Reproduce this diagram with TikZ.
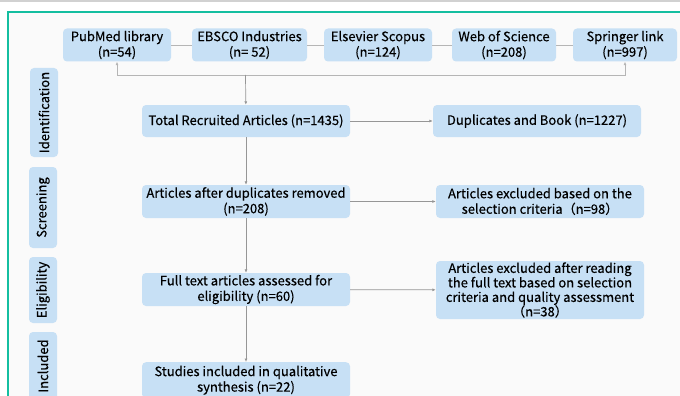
\documentclass[tikz,border=0pt]{standalone}
\usepackage{fontspec}
\setmainfont{Noto Sans CJK SC}[FakeBold=0.35]
\usepackage{tikz}
\usetikzlibrary{arrows.meta}
\definecolor{boxblue}{RGB}{199,224,245}
\definecolor{frameteal}{RGB}{20,190,160}
\definecolor{linegray}{RGB}{150,150,150}

\begin{document}
\begin{tikzpicture}[x=1pt,y=-1pt,
  box/.style={draw=none,fill=boxblue,rounded corners=4pt,align=center,font=\fontsize{13}{15.5}\selectfont,inner sep=1pt},
  side/.style={draw=none,fill=boxblue,rounded corners=4pt,rotate=90,font=\fontsize{13}{15.5}\selectfont,minimum height=28pt,inner sep=1pt},
  link/.style={draw=linegray!70,line width=0.9pt},
  flow/.style={draw=linegray,line width=0.7pt,-{Latex[length=3.5pt,width=3pt]}}]
\useasboundingbox (0,0) rectangle (680,396);
\clip (0,0) rectangle (680,396);
\fill[white] (0,0) rectangle (680,396);
\draw[black!18,line width=1.5pt] (0,0.8) -- (680,0.8);
\fill[black!2] (8,12) rectangle (684,400);
\draw[frameteal,line width=1.2pt] (8,400) -- (8,12) -- (684,12);
% sources
\node[box,minimum width=108pt,minimum height=33pt] (pubmed) at (117,45) {PubMed library\\(n=54)};
\node[box,minimum width=115pt,minimum height=33pt] (ebsco) at (249.5,45) {EBSCO Industries\\(n= 52)};
\node[box,minimum width=108pt,minimum height=33pt] (scopus) at (378,45) {Elsevier Scopus\\(n=124)};
\node[box,minimum width=104pt,minimum height=33pt] (wos) at (504,45) {Web of Science\\(n=208)};
\node[box,minimum width=104pt,minimum height=33pt] (springer) at (625,45) {Springer link\\(n=997)};
\draw[link] (pubmed) -- (ebsco);
\draw[link] (ebsco) -- (scopus);
\draw[link] (scopus) -- (wos);
\draw[link] (wos) -- (springer);
\coordinate (merge) at (245.5,75);
\draw[link,-{Latex[length=3.5pt,width=3pt]}] (merge) -| (pubmed.south);
\draw[link,-{Latex[length=3.5pt,width=3pt]}] (merge) -| (springer.south);
% stages
\node[side,minimum width=89pt] (ident) at (44,112.5) {Identification};
\node[side,minimum width=81pt] (screen) at (43,207.5) {Screening};
\node[side,minimum width=66pt] (elig) at (43,290) {Eligibility};
\node[side,minimum width=68pt] (incl) at (43,366) {Included};
% main flow
\node[box,minimum width=208pt,minimum height=32pt] (total) at (246,121) {Total Recruited Articles (n=1435)};
\node[box,minimum width=208pt,minimum height=32pt] (dupl) at (537,121) {Duplicates and Book (n=1227)};
\node[box,minimum width=208pt,minimum height=33pt] (afterdup) at (246,201.5) {Articles after duplicates removed\\(n=208)};
\node[box,minimum width=208pt,minimum height=33pt] (exsel) at (540,201.5) {Articles excluded based on the\\selection criteria（n=98）};
\node[box,minimum width=208pt,minimum height=58pt,font=\fontsize{13}{14.5}\selectfont] (exfull) at (540,290) {Articles excluded after reading\\the full text based on selection\\criteria and quality assessment\\（n=38）};
\node[box,minimum width=208pt,minimum height=33pt] (fulltext) at (246,289.5) {Full text articles assessed for\\eligibility (n=60)};
\node[box,minimum width=208pt,minimum height=36pt,anchor=north] (studies) at (246,362) {Studies included in qualitative\\synthesis (n=22)};
\draw[flow] (merge) -- (total);
\draw[flow] (total) -- (dupl);
\draw[flow] (total) -- (afterdup);
\draw[flow] (afterdup) -- (exsel);
\draw[flow] (afterdup) -- (fulltext);
\draw[flow] (fulltext) -- (exfull);
\draw[flow] (fulltext) -- (studies);
\end{tikzpicture}
\end{document}
